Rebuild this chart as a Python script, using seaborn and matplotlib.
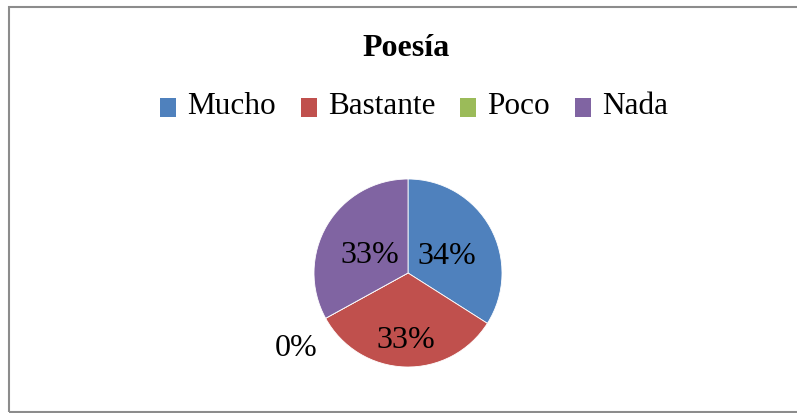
import numpy as np
import matplotlib
matplotlib.use("Agg")
import matplotlib.pyplot as plt
from matplotlib.patches import Rectangle, Patch
from matplotlib.legend_handler import HandlerPatch
import seaborn as sns

categories = ["Mucho", "Bastante", "Poco", "Nada"]
values = [34, 33, 0, 33]
pct_labels = ["34%", "33%", "0%", "33%"]
title = "Poesía"
colors_hex = ["#4F81BD", "#C0504D", "#9BBB59", "#8064A2"]

sns.set_theme(style="white")
plt.rcParams["font.family"] = ["Liberation Serif", "DejaVu Serif"]
plt.rcParams["text.color"] = "black"
palette = sns.color_palette(colors_hex)

W, H = 797, 414
fig = plt.figure(figsize=(W / 100, H / 100), dpi=100)
fig.patch.set_facecolor("white")

# outer border
fig.patches.append(Rectangle((8.5 / W, 1.5 / H), 1.2, (411 - 6) / H,
                             transform=fig.transFigure, fill=False,
                             edgecolor="#8c8c8c", linewidth=1.5))

cx, cy, r = 408, 274, 94
ax = fig.add_axes([(cx - r) / W, (H - cy - r) / H, 2 * r / W, 2 * r / H])
wedges, _ = ax.pie(values, colors=palette, startangle=90, counterclock=False,
                   radius=1.0,
                   wedgeprops=dict(edgecolor="white", linewidth=0.6))
ax.set_xlim(-1, 1)
ax.set_ylim(-1, 1)
ax.set_aspect("equal")
ax.axis("off")

# percent labels (Excel best-fit style placement)
dists = [0.47, 0.67, 1.41, 0.47]
angle_shift = [0, 0, 3.5, 0]
for w, lab, d, s in zip(wedges, pct_labels, dists, angle_shift):
    ang = np.deg2rad((w.theta1 + w.theta2) / 2 + s)
    ax.text(d * np.cos(ang), d * np.sin(ang), lab, ha="center", va="center_baseline",
            fontsize=23, color="black", clip_on=False)

fig.text(406 / W, 1 - 45 / H, title, ha="center", va="center_baseline",
         fontsize=23, fontweight="bold", color="black")


def low_square(legend, orig_handle, xdescent, ydescent, width, height, fontsize):
    return Rectangle((-xdescent, -ydescent - 0.17 * fontsize), width, height)


handles = [Patch(facecolor=c, edgecolor="none") for c in palette]
fig.legend(handles, categories, loc="center", bbox_to_anchor=(414 / W, 1 - 107 / H),
           ncol=4, frameon=False, fontsize=22.5, handlelength=0.52,
           handleheight=0.55, handletextpad=0.35, columnspacing=0.8,
           labelcolor="black",
           handler_map={Patch: HandlerPatch(patch_func=low_square)})

fig.savefig("out.png", dpi=100, facecolor="white")
